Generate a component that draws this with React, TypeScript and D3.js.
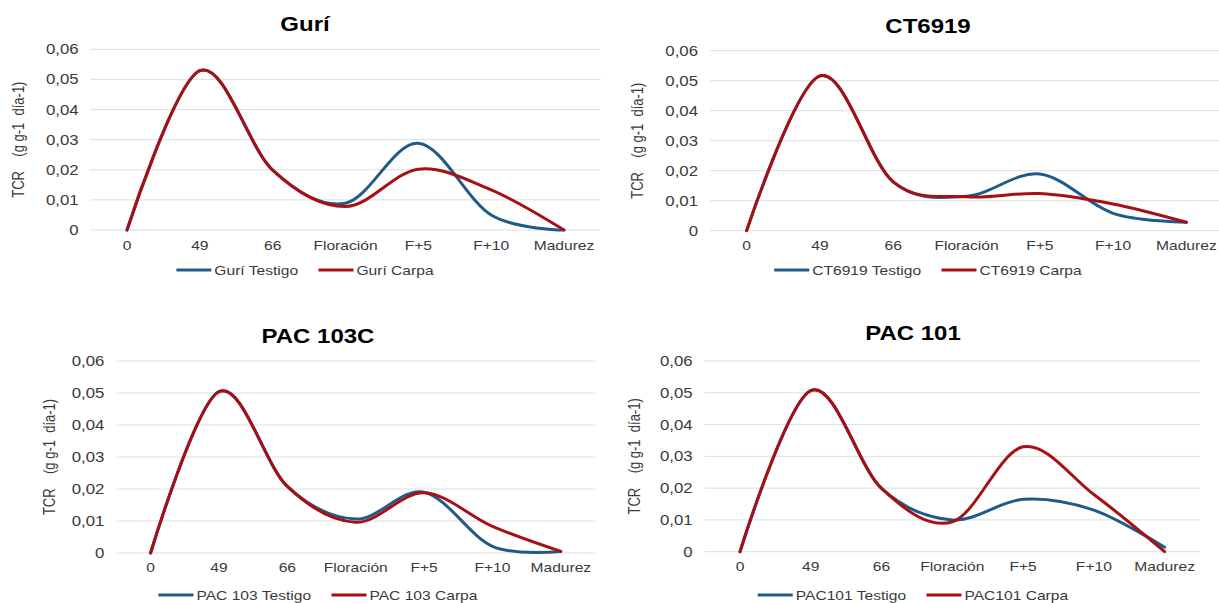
import * as d3 from "d3";

// categories on the x axis (same for all four panels)
const categories = ["0", "49", "66", "Floración", "F+5", "F+10", "Madurez"];
const yTicks = [0, 0.01, 0.02, 0.03, 0.04, 0.05, 0.06];

// TCR values
const guriTestigo = [0, 0.0529, 0.0199, 0.0089, 0.0288, 0.005, 0];
const guriCarpa = [0, 0.0529, 0.0199, 0.0078, 0.0202, 0.0133, 0];
const ctTestigo = [0, 0.0516, 0.0163, 0.0115, 0.0189, 0.0058, 0.0028];
const ctCarpa = [0, 0.0516, 0.0163, 0.0113, 0.0124, 0.0089, 0.0028];
const pac103Testigo = [0, 0.0504, 0.0208, 0.0106, 0.019, 0.0021, 0.0005];
const pac103Carpa = [0, 0.0504, 0.0208, 0.0096, 0.0188, 0.0083, 0.0005];
const pac101Testigo = [0, 0.0507, 0.0199, 0.01, 0.0165, 0.0131, 0.0014];
const pac101Carpa = [0, 0.0507, 0.0199, 0.0094, 0.033, 0.018, 0];

const BLUE = "#1f5b89";
const RED = "#a80f14";
const FONT = "'Liberation Sans', Arial, sans-serif";
const SX = 1.2; // the picture is stretched sideways

const panels = [
  {
    title: "Gurí",
    series: [
      { name: "Gurí Testigo", values: guriTestigo, color: BLUE },
      { name: "Gurí Carpa", values: guriCarpa, color: RED },
    ],
    left: 90.6, right: 600.4, top: 49.3, bottom: 230,
    cx: 305, titleY: 31, xLabelY: 250, legendY: 270, yTitleX: 19,
  },
  {
    title: "CT6919",
    series: [
      { name: "CT6919 Testigo", values: ctTestigo, color: BLUE },
      { name: "CT6919 Carpa", values: ctCarpa, color: RED },
    ],
    left: 710, right: 1223, top: 50.7, bottom: 230.7,
    cx: 928, titleY: 33, xLabelY: 250, legendY: 270, yTitleX: 638,
  },
  {
    title: "PAC 103C",
    series: [
      { name: "PAC 103 Testigo", values: pac103Testigo, color: BLUE },
      { name: "PAC 103 Carpa", values: pac103Carpa, color: RED },
    ],
    left: 116.4, right: 595, top: 361, bottom: 553,
    cx: 318, titleY: 343, xLabelY: 572, legendY: 595, yTitleX: 50,
  },
  {
    title: "PAC 101",
    series: [
      { name: "PAC101 Testigo", values: pac101Testigo, color: BLUE },
      { name: "PAC101 Carpa", values: pac101Carpa, color: RED },
    ],
    left: 704.6, right: 1200, top: 361, bottom: 551.7,
    cx: 913, titleY: 340, xLabelY: 571, legendY: 595, yTitleX: 635,
  },
];

const fmt = (v: number) => (v === 0 ? "0" : d3.format(".2f")(v).replace(".", ","));

let ctx: CanvasRenderingContext2D | null = null;
function textWidth(s: string, size: number) {
  if (!ctx) ctx = document.createElement("canvas").getContext("2d");
  if (!ctx) return s.length * size * 0.55;
  ctx.font = `${size}px ${FONT}`;
  return ctx.measureText(s).width;
}

function SText({ x, y, size, anchor = "middle", weight = "normal", fill = "#3a3a3a", rotate = 0, baseline = "auto", children }: any) {
  return (
    <text
      transform={`translate(${x},${y}) scale(${SX},1)${rotate ? ` rotate(${rotate})` : ""}`}
      fontSize={size}
      fontFamily={FONT}
      fontWeight={weight}
      textAnchor={anchor}
      dominantBaseline={baseline}
      fill={fill}
      style={{ whiteSpace: "pre" }}
    >
      {children}
    </text>
  );
}

function Panel({ p }: any) {
  const x = d3.scaleBand().domain(categories).range([p.left, p.right]);
  const y = d3.scaleLinear().domain([0, 0.06]).range([p.bottom, p.top]);
  const line = d3
    .line<number>()
    .x((_, i) => x(categories[i])! + x.bandwidth() / 2)
    .y((d) => y(d))
    .curve(d3.curveCardinal.tension(0));

  // legend layout
  const lineLen = 35;
  const widths = p.series.map((s: any) => textWidth(s.name, 13) * SX);
  const total = widths.reduce((a: number, w: number) => a + lineLen + 3 + w, 0) + 20;
  let lx = p.cx - total / 2;
  const legend = p.series.map((s: any, i: number) => {
    const start = lx;
    lx += lineLen + 3 + widths[i] + 20;
    return { ...s, start };
  });

  return (
    <g>
      <SText x={p.cx} y={p.titleY} size={20} weight="bold" fill="#000">
        {p.title}
      </SText>
      {yTicks.map((t) => (
        <g key={t}>
          <line x1={p.left} x2={p.right} y1={y(t)} y2={y(t)} stroke="#dedede" strokeWidth={1} />
          <SText x={p.left - 12} y={y(t)} size={14} anchor="end" baseline="central">
            {fmt(t)}
          </SText>
        </g>
      ))}
      {categories.map((c) => (
        <SText key={c} x={x(c)! + x.bandwidth() / 2} y={p.xLabelY} size={13}>
          {c}
        </SText>
      ))}
      <SText x={p.yTitleX} y={(p.top + p.bottom) / 2} size={13} rotate={-90} baseline="central">
        {"TCR    (g g-1  día-1)"}
      </SText>
      {p.series.map((s: any) => (
        <path key={s.name} d={line(s.values) || ""} fill="none" stroke={s.color} strokeWidth={3} strokeLinecap="round" />
      ))}
      {legend.map((s: any) => (
        <g key={s.name}>
          <line x1={s.start} x2={s.start + lineLen} y1={p.legendY} y2={p.legendY} stroke={s.color} strokeWidth={3} />
          <SText x={s.start + lineLen + 3} y={p.legendY} size={13} anchor="start" baseline="central">
            {s.name}
          </SText>
        </g>
      ))}
    </g>
  );
}

export default function App() {
  return (
    <svg
      width={1219}
      height={603}
      style={{ position: "absolute", left: 0, top: 0, background: "#fff" }}
    >
      <rect width={1219} height={603} fill="#fff" />
      {panels.map((p) => (
        <Panel key={p.title} p={p} />
      ))}
    </svg>
  );
}
